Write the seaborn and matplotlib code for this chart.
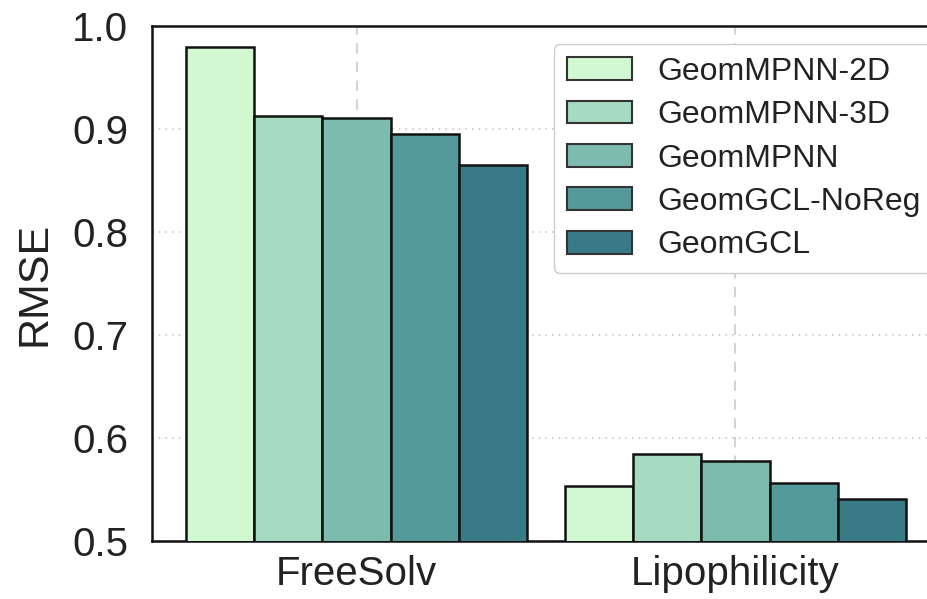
import matplotlib
matplotlib.use("Agg")
import matplotlib.pyplot as plt
import seaborn as sns
import pandas as pd

datasets = ["FreeSolv", "Lipophilicity"]
models = ["GeomMPNN-2D", "GeomMPNN-3D", "GeomMPNN", "GeomGCL-NoReg", "GeomGCL"]
freesolv_rmse = [0.980, 0.913, 0.911, 0.895, 0.865]
lipo_rmse = [0.553, 0.584, 0.578, 0.556, 0.541]
colors = ["#d2f8d2", "#a5dbc0", "#7dbbaf", "#559a9a", "#387b86"]

rows = []
for m, a, b in zip(models, freesolv_rmse, lipo_rmse):
    rows.append({"dataset": datasets[0], "model": m, "rmse": a})
    rows.append({"dataset": datasets[1], "model": m, "rmse": b})
df = pd.DataFrame(rows)

sns.set_theme(style="white")
plt.rcParams["font.family"] = ["Liberation Sans", "DejaVu Sans"]

fig = plt.figure(figsize=(9.27, 5.99), dpi=100)
ax = fig.add_axes([152 / 927, 1 - 541 / 599, (940 - 152) / 927, (541 - 26) / 599])

sns.barplot(data=df, x="dataset", y="rmse", hue="model", order=datasets,
            hue_order=models, palette=colors, saturation=1, width=0.9,
            edgecolor="#111111", linewidth=1.8, ax=ax, legend=True, zorder=3)

ax.set_ylim(0.5, 1.0)
ax.set_xlim(-0.54, 1.54)
ax.set_yticks([0.5, 0.6, 0.7, 0.8, 0.9, 1.0])
ax.set_yticklabels(["0.5", "0.6", "0.7", "0.8", "0.9", "1.0"])
ax.tick_params(axis="both", length=0, labelsize=29, colors="#222222")
ax.tick_params(axis="y", pad=17)
ax.tick_params(axis="x", pad=10)
ax.set_xlabel("")
ax.set_ylabel("RMSE", fontsize=31, color="#222222", labelpad=13)

ax.yaxis.grid(True, linestyle=(0, (1, 3)), color="#c8c8c8", linewidth=1.2, zorder=0)
ax.xaxis.grid(True, linestyle=(0, (5, 4)), color="#d4d4d4", linewidth=1.5, zorder=0)
ax.set_axisbelow(True)

for side in ["left", "top", "bottom"]:
    ax.spines[side].set_visible(True)
    ax.spines[side].set_color("#111111")
    ax.spines[side].set_linewidth(1.8)
ax.spines["right"].set_visible(False)

handles, labels = ax.get_legend_handles_labels()
for h in handles:
    h.set_edgecolor("#333333")
    h.set_linewidth(1.5)
leg = ax.legend(handles, labels, loc="upper left",
                bbox_to_anchor=(554 / 927, 1 - 44 / 599), bbox_transform=fig.transFigure,
                borderaxespad=0, fontsize=23, frameon=True, fancybox=True,
                edgecolor="#cccccc", framealpha=1, handlelength=2.03, handleheight=0.72,
                handletextpad=0.8, labelspacing=0.42, borderpad=0.4)
for t in leg.get_texts():
    t.set_color("#222222")

fig.savefig("out.png", dpi=100)
